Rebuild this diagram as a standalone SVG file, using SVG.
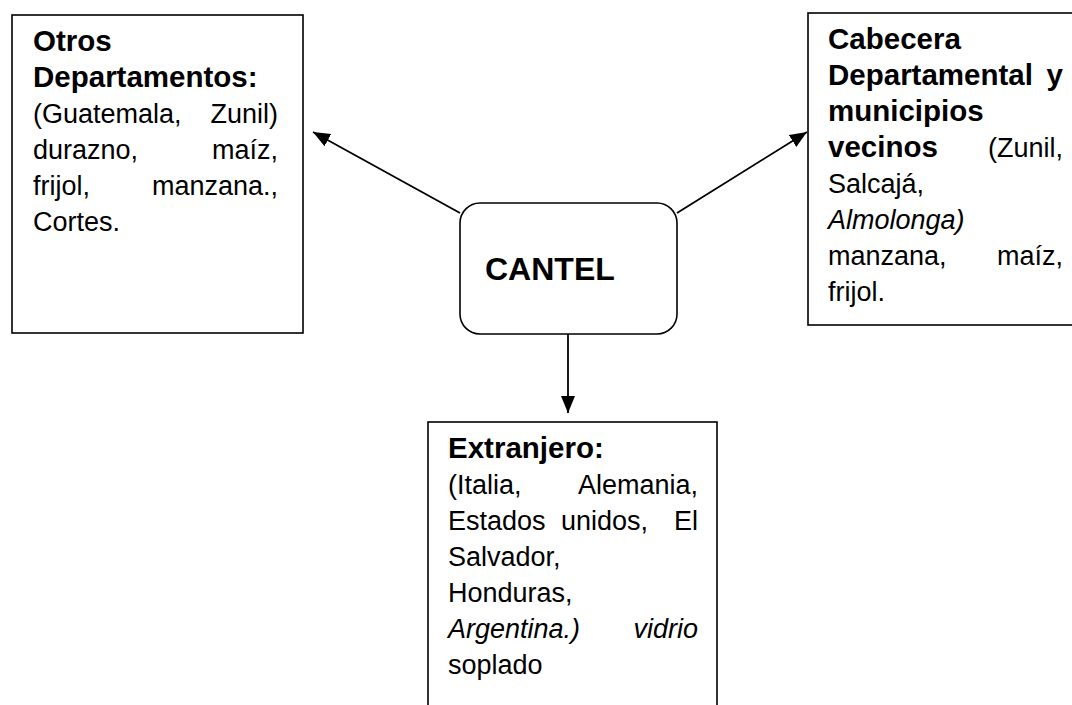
<svg xmlns="http://www.w3.org/2000/svg" width="1072" height="705" viewBox="0 0 1072 705">
<style>
.box{fill:#fff;stroke:#000;stroke-width:1.6}
.t{font-family:"Liberation Sans",Arial,sans-serif;font-size:27px;fill:#000}
.b{font-weight:bold;font-size:29.5px}
.i{font-style:italic}
.e{text-anchor:end}
.conn{stroke:#000;stroke-width:1.8;fill:none}
</style>
<defs>
<marker id="ah" markerUnits="userSpaceOnUse" markerWidth="18" markerHeight="16" refX="17" refY="8" orient="auto">
<path d="M0,1 L17,8 L0,15 z" fill="#000"/>
</marker>
</defs>
<rect width="1072" height="705" fill="#fff"/>
<g id="connectors">
<line class="conn" x1="460" y1="213" x2="313" y2="132" marker-end="url(#ah)"/>
<line class="conn" x1="677" y1="213" x2="807" y2="132" marker-end="url(#ah)"/>
<line class="conn" x1="568" y1="334" x2="568" y2="413" marker-end="url(#ah)"/>
</g>
<g id="otros">
<rect class="box" x="12" y="15" width="291" height="318"/>
<text class="t b" x="33" y="51">Otros</text>
<text class="t b" x="33" y="87">Departamentos:</text>
<text class="t" x="33" y="123">(Guatemala,</text><text class="t e" x="278" y="123">Zunil)</text>
<text class="t" x="33" y="159">durazno,</text><text class="t e" x="278" y="159">maíz,</text>
<text class="t" x="33" y="195">frijol,</text><text class="t e" x="278" y="195">manzana.,</text>
<text class="t" x="33" y="231">Cortes.</text>
</g>
<g id="cabecera">
<rect class="box" x="808" y="13" width="290" height="312"/>
<text class="t b" x="828" y="49">Cabecera</text>
<text class="t b" x="828" y="85">Departamental</text><text class="t b e" x="1063" y="85">y</text>
<text class="t b" x="828" y="121">municipios</text>
<text class="t b" x="828" y="157">vecinos</text><text class="t e" x="1063" y="157">(Zunil,</text>
<text class="t" x="828" y="193">Salcajá,</text>
<text class="t i" x="828" y="229">Almolonga)</text>
<text class="t" x="828" y="265">manzana,</text><text class="t e" x="1063" y="265">maíz,</text>
<text class="t" x="828" y="301">frijol.</text>
</g>
<g id="cantel">
<rect class="box" x="460" y="203" width="217" height="131" rx="20" ry="20"/>
<text class="t b" x="485" y="280" style="font-size:32px">CANTEL</text>
</g>
<g id="extranjero">
<rect class="box" x="428" y="422" width="289" height="300"/>
<text class="t b" x="448" y="458">Extranjero:</text>
<text class="t" x="448" y="494">(Italia,</text><text class="t e" x="698" y="494">Alemania,</text>
<text class="t" x="448" y="530">Estados</text><text class="t" x="561" y="530">unidos,</text><text class="t e" x="698" y="530">El</text>
<text class="t" x="448" y="566">Salvador,</text>
<text class="t" x="448" y="602">Honduras,</text>
<text class="t i" x="448" y="638">Argentina.)</text><text class="t i e" x="698" y="638">vidrio</text>
<text class="t" x="448" y="674">soplado</text>
</g>
</svg>
